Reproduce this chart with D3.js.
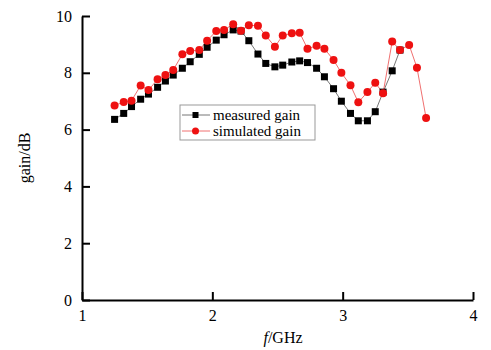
<!DOCTYPE html>
<html>
<head>
<meta charset="utf-8">
<script src="https://cdn.jsdelivr.net/npm/d3@7"></script>
<style>
  html, body { margin: 0; padding: 0; background: #fff; }
  text { font-family: 'Liberation Serif', 'Times New Roman', serif; }
</style>
</head>
<body>
<div id="chart"></div>
<script>
// frequency points (GHz)
const freqs = [1.25, 1.32, 1.38, 1.45, 1.51, 1.58, 1.64, 1.70, 1.77, 1.83,
  1.90, 1.96, 2.03, 2.09, 2.16, 2.22, 2.28, 2.35, 2.41, 2.48,
  2.54, 2.61, 2.67, 2.73, 2.80, 2.86, 2.93, 2.99, 3.06, 3.12,
  3.19, 3.25, 3.31, 3.38, 3.44, 3.51, 3.57, 3.64]

const measuredGain = [6.36, 6.57, 6.81, 7.07, 7.25, 7.49, 7.71, 7.92, 8.16, 8.39,
  8.65, 8.90, 9.15, 9.34, 9.51, 9.47, 9.13, 8.66, 8.33, 8.21,
  8.27, 8.38, 8.42, 8.36, 8.16, 7.86, 7.44, 7.00, 6.57, 6.31,
  6.31, 6.63, 7.32, 8.07, 8.80]

const simulatedGain = [6.85, 6.97, 7.02, 7.55, 7.39, 7.77, 7.92, 8.10, 8.65, 8.77,
  8.80, 9.13, 9.47, 9.51, 9.71, 9.48, 9.67, 9.66, 9.31, 8.92,
  9.31, 9.39, 9.41, 8.85, 8.95, 8.85, 8.45, 8.00, 7.56, 6.96,
  7.32, 7.65, 7.28, 9.10, 8.80, 8.98, 8.18, 6.41]

const xTicks = [1, 2, 3, 4]
const yTicks = [0, 2, 4, 6, 8, 10]

const width = 491
const height = 350
const margin = { top: 16, right: 18, bottom: 50, left: 82 }

const svg = d3.select('#chart')
  .append('svg')
  .attr('width', width)
  .attr('height', height)

const x = d3.scaleLinear().domain([1, 4]).range([margin.left, width - margin.right])
const y = d3.scaleLinear().domain([0, 10]).range([height - margin.bottom, margin.top])

// Axes (ticks point inward)
const xAxis = svg.append('g')
  .attr('transform', `translate(0,${y(0)})`)
  .call(d3.axisBottom(x).tickValues(xTicks).tickFormat(d3.format('d')).tickSizeInner(-8).tickSizeOuter(0).tickPadding(10))
xAxis.select('.domain').attr('stroke-width', 2)
xAxis.selectAll('.tick line').attr('stroke-width', 2)
xAxis.selectAll('.tick text').attr('font-size', '16px').attr('fill', '#000')

const yAxis = svg.append('g')
  .attr('transform', `translate(${x(1)},0)`)
  .call(d3.axisLeft(y).tickValues(yTicks).tickFormat(d3.format('d')).tickSizeInner(-8).tickSizeOuter(0).tickPadding(10))
yAxis.select('.domain').attr('stroke-width', 2)
yAxis.selectAll('.tick line').attr('stroke-width', 2)
yAxis.selectAll('.tick text').attr('font-size', '16px').attr('fill', '#000')

// Axis titles
const xTitle = svg.append('text')
  .attr('x', 283)
  .attr('y', 343)
  .attr('text-anchor', 'middle')
  .attr('font-size', '16px')
xTitle.append('tspan').attr('font-style', 'italic').text('f')
xTitle.append('tspan').text('/GHz')

svg.append('text')
  .attr('transform', `translate(30,${(margin.top + height - margin.bottom) / 2}) rotate(-90)`)
  .attr('text-anchor', 'middle')
  .attr('font-size', '16px')
  .text('gain/dB')

// Series
const measured = measuredGain.map((v, i) => ({ f: freqs[i], g: v }))
const simulated = simulatedGain.map((v, i) => ({ f: freqs[i], g: v }))

const line = d3.line().x(d => x(d.f)).y(d => y(d.g))

svg.append('path')
  .datum(measured)
  .attr('fill', 'none')
  .attr('stroke', '#777')
  .attr('stroke-width', 1)
  .attr('d', line)

svg.append('path')
  .datum(simulated)
  .attr('fill', 'none')
  .attr('stroke', '#f07070')
  .attr('stroke-width', 1)
  .attr('d', line)

svg.append('g').selectAll('rect')
  .data(measured)
  .join('rect')
  .attr('x', d => x(d.f) - 3.5)
  .attr('y', d => y(d.g) - 3.5)
  .attr('width', 7)
  .attr('height', 7)
  .attr('fill', '#000')

svg.append('g').selectAll('circle')
  .data(simulated)
  .join('circle')
  .attr('cx', d => x(d.f))
  .attr('cy', d => y(d.g))
  .attr('r', 4)
  .attr('fill', '#ee1111')

// Legend
const legend = svg.append('g').attr('transform', 'translate(180,105)')
legend.append('rect')
  .attr('width', 135)
  .attr('height', 35)
  .attr('fill', 'none')
  .attr('stroke', '#999')
  .attr('stroke-width', 1)

const legendItems = [
  { name: 'measured gain', color: '#777', shape: 'square' },
  { name: 'simulated gain', color: '#f07070', shape: 'circle' }
]
legendItems.forEach((item, i) => {
  const row = legend.append('g').attr('transform', `translate(0,${10 + i * 16})`)
  row.append('line')
    .attr('x1', 2).attr('x2', 30)
    .attr('stroke', item.color)
    .attr('stroke-width', 1)
  if (item.shape === 'square') {
    row.append('rect').attr('x', 12.5).attr('y', -3).attr('width', 6).attr('height', 6).attr('fill', '#000')
  } else {
    row.append('circle').attr('cx', 15.5).attr('r', 3.5).attr('fill', '#ee1111')
  }
  row.append('text')
    .attr('x', 33)
    .attr('dy', '0.35em')
    .attr('font-size', '15px')
    .text(item.name)
})
</script>
</body>
</html>
